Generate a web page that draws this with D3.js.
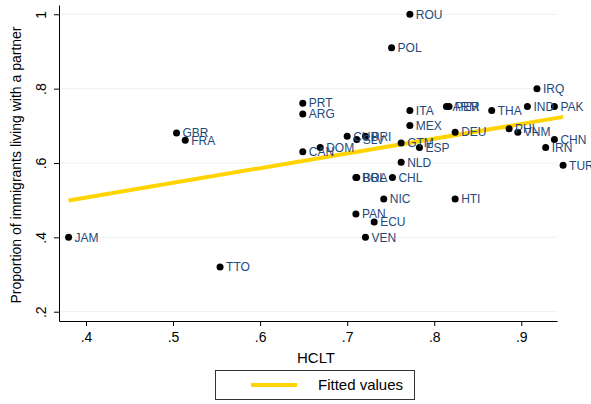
<!DOCTYPE html>
<html>
<head>
<meta charset="utf-8">
<script src="https://cdn.jsdelivr.net/npm/d3@7"></script>
<style>
  html, body { margin: 0; padding: 0; background: #fff; }
  svg { display: block; font-family: "Liberation Sans", Arial, sans-serif; }
</style>
</head>
<body>
<svg id="chart" width="591" height="404"></svg>
<script>
// Country codes, HCLT score and share of immigrants living with a partner
const countries = ["JAM","TTO","GBR","FRA","PRT","ARG","CAN","DOM","CUB","SLV","PRI",
  "ROU","POL","ITA","MEX","GTM","ESP","NLD","BOL","BRA","CHL","NIC","PAN","ECU","VEN",
  "ARM","PER","DEU","HTI","THA","IND","PAK","IRQ","PHL","VNM","CHN","IRN","TUR"];
const hclt = [0.380,0.554,0.504,0.514,0.649,0.649,0.649,0.669,0.700,0.711,0.721,
  0.772,0.751,0.772,0.772,0.762,0.783,0.762,0.710,0.711,0.752,0.742,0.710,0.731,0.721,
  0.814,0.817,0.824,0.824,0.866,0.907,0.938,0.918,0.886,0.896,0.938,0.928,0.948];
const partner = [0.400,0.320,0.681,0.661,0.761,0.732,0.630,0.642,0.672,0.663,0.672,
  1.000,0.910,0.741,0.701,0.654,0.642,0.602,0.561,0.561,0.561,0.503,0.463,0.441,0.400,
  0.752,0.752,0.683,0.503,0.741,0.752,0.752,0.800,0.692,0.683,0.663,0.642,0.594];

// Linear fit endpoints
const fitX = [0.380, 0.948];
const fitY = [0.499, 0.724];

const xTicks = [0.4, 0.5, 0.6, 0.7, 0.8, 0.9];
const yTicks = [0.2, 0.4, 0.6, 0.8, 1.0];

const svg = d3.select("#chart");
const plotL = 59, plotR = 557, plotT = 5, plotB = 321;

const x = d3.scaleLinear().domain([0.369, 0.941]).range([plotL, plotR]);
const y = d3.scaleLinear().domain([0.175, 1.025]).range([plotB, plotT]);
const fmt = d => d === 1 ? "1" : d3.format(".1f")(d).replace(/^0/, "");

// horizontal grid
svg.append("g").selectAll("line").data(yTicks).join("line")
  .attr("x1", plotL).attr("x2", plotR)
  .attr("y1", d => y(d)).attr("y2", d => y(d))
  .attr("stroke", "#eaf2f3").attr("stroke-width", 1);

// axes
const xAxis = svg.append("g").attr("transform", `translate(0,${plotB})`)
  .call(d3.axisBottom(x).tickValues(xTicks).tickFormat(fmt).tickSize(5).tickSizeOuter(0));
xAxis.selectAll("text").attr("font-size", 14).attr("fill", "#000").attr("dy", "0.95em")
  .attr("font-family", "Liberation Sans, Arial, sans-serif");

const yAxis = svg.append("g").attr("transform", `translate(${plotL},0)`)
  .call(d3.axisLeft(y).tickValues(yTicks).tickFormat(fmt).tickSize(5).tickSizeOuter(0));
yAxis.selectAll("text")
  .attr("font-size", 14).attr("fill", "#000")
  .attr("font-family", "Liberation Sans, Arial, sans-serif")
  .attr("x", 0).attr("y", 0).attr("dy", "0.35em")
  .attr("text-anchor", "middle")
  .attr("transform", "translate(-18,0) rotate(-90)");
svg.selectAll(".domain, .tick line").attr("stroke", "#000");

// fitted line
svg.append("line")
  .attr("x1", x(fitX[0])).attr("y1", y(fitY[0]))
  .attr("x2", x(fitX[1])).attr("y2", y(fitY[1]))
  .attr("stroke", "#ffd400").attr("stroke-width", 4);

// points
const data = countries.map((c, i) => ({ c, h: hclt[i], p: partner[i] }));
svg.append("g").selectAll("circle").data(data).join("circle")
  .attr("cx", d => x(d.h)).attr("cy", d => y(d.p)).attr("r", 3.5)
  .attr("fill", "#000");
svg.append("g").selectAll("text").data(data).join("text")
  .attr("x", d => x(d.h) + 6).attr("y", d => y(d.p))
  .attr("dy", "0.36em")
  .attr("font-size", 12).attr("fill", "#1f4a7a")
  .text(d => d.c);

// axis titles
svg.append("text").attr("x", 316).attr("y", 363)
  .attr("text-anchor", "middle").attr("font-size", 15).text("HCLT");
svg.append("text").attr("transform", `translate(21,165) rotate(-90)`)
  .attr("text-anchor", "middle").attr("font-size", 14)
  .text("Proportion of immigrants living with a partner");

// legend
const lg = svg.append("g");
lg.append("rect").attr("x", 215.5).attr("y", 370.5).attr("width", 199).attr("height", 29)
  .attr("fill", "#fff").attr("stroke", "#333").attr("stroke-width", 1);
lg.append("line").attr("x1", 251).attr("x2", 297).attr("y1", 385).attr("y2", 385)
  .attr("stroke", "#ffd400").attr("stroke-width", 4);
lg.append("text").attr("x", 318).attr("y", 385).attr("dy", "0.35em")
  .attr("font-size", 15).text("Fitted values");
</script>
</body>
</html>
